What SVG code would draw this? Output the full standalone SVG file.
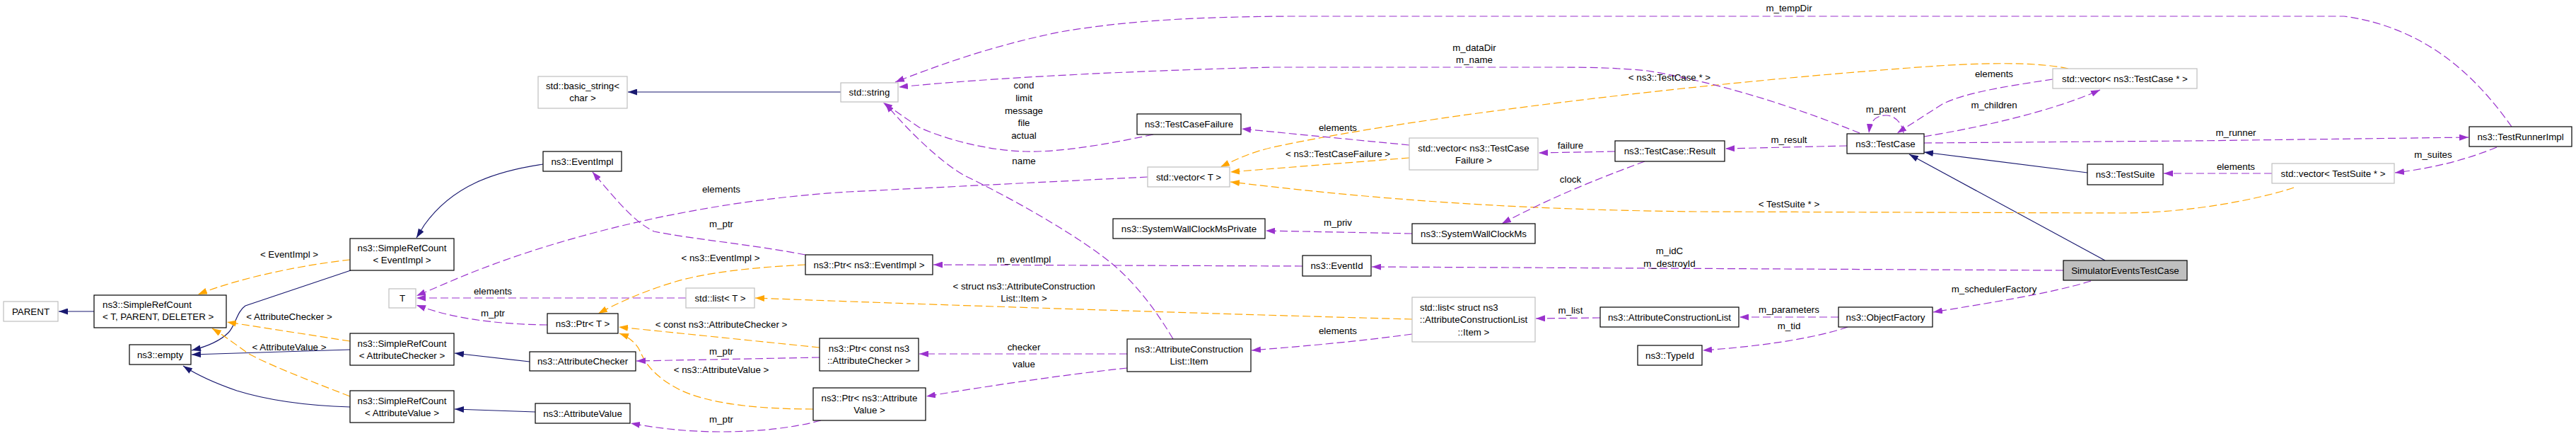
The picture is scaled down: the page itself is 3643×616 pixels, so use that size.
<svg xmlns="http://www.w3.org/2000/svg" width="3643" height="616" viewBox="0 0 3643 616">
<style>
text{font-family:"Liberation Sans",Arial,sans-serif;font-size:13.33px;fill:#000}
.c{text-anchor:middle}
.b{fill:#fff;stroke:#000;stroke-width:1.2}
.g{fill:#fff;stroke:#bfbfbf;stroke-width:1.2}
.f{fill:#bfbfbf;stroke:#000;stroke-width:1.2}
.e{fill:none;stroke-width:1.2}
.nv{stroke:#191970;marker-end:url(#an)}
.pu{stroke:#9a32cd;stroke-dasharray:11,5;marker-end:url(#ap)}
.or{stroke:#ffa500;stroke-dasharray:11,5;marker-end:url(#ao)}
</style>
<defs>
<marker id="an" viewBox="0 0 13 9" refX="13" refY="4.5" markerWidth="13" markerHeight="9" markerUnits="userSpaceOnUse" orient="auto"><path d="M0,0L13,4.5L0,9z" fill="#191970"/></marker>
<marker id="ap" viewBox="0 0 13 9" refX="13" refY="4.5" markerWidth="13" markerHeight="9" markerUnits="userSpaceOnUse" orient="auto"><path d="M0,0L13,4.5L0,9z" fill="#9a32cd"/></marker>
<marker id="ao" viewBox="0 0 13 9" refX="13" refY="4.5" markerWidth="13" markerHeight="9" markerUnits="userSpaceOnUse" orient="auto"><path d="M0,0L13,4.5L0,9z" fill="#ffa500"/></marker>
</defs>
<rect width="3643" height="616" fill="#fff"/>
<g id="connectors">
<path class="e nv" d="M133,440L83,440"/>
<path class="e nv" d="M496,382L347,432C335,440 333,460 323,470C312,481 295,489 271,495"/>
<path class="e nv" d="M495,494L271,501"/>
<path class="e nv" d="M495,575C430,573 380,566 335,552C300,540 276,528 259,517"/>
<path class="e nv" d="M768,232C700,242 640,262 600,318L589,336"/>
<path class="e nv" d="M749,511L643,499"/>
<path class="e nv" d="M757,582L643,578"/>
<path class="e nv" d="M1189,130L888,130"/>
<path class="e nv" d="M2952,244L2721,215"/>
<path class="e nv" d="M2977,368L2700,218"/>
<path class="e or" d="M495,367C430,374 340,392 280,416"/>
<path class="e or" d="M495,482L321,455"/>
<path class="e or" d="M495,560C430,535 380,515 352,500C335,488 318,475 300,464"/>
<path class="e or" d="M1139,374C1060,378 1000,385 955,398C905,413 870,430 846,443"/>
<path class="e or" d="M1159,491L875,462"/>
<path class="e or" d="M1150,578C1070,578 1000,570 960,550C925,532 912,512 906,498C902,488 892,477 876,471"/>
<path class="e or" d="M1997,451C1700,443 1300,430 1068,421"/>
<path class="e or" d="M1993,223L1740,243"/>
<path class="e or" d="M2925,97C2880,87 2800,88 2700,96C2400,118 2000,165 1800,208C1770,215 1748,225 1726,236"/>
<path class="e or" d="M3244,265C3200,280 3100,301 3000,301L2400,299C2100,296 1900,276 1740,257"/>
<path class="e pu" d="M1623,250L1200,271C1000,283 800,330 650,392L589,418"/>
<path class="e pu" d="M970,421L589,421"/>
<path class="e pu" d="M774,459C700,458 640,450 589,431"/>
<path class="e pu" d="M1139,360C1060,345 980,338 925,327C900,315 880,293 838,243"/>
<path class="e pu" d="M3552,179C3510,120 3440,40 3315,23L1820,23C1700,24 1600,28 1500,45C1400,65 1320,95 1266,116"/>
<path class="e pu" d="M2630,188C2560,160 2450,120 2330,100C2290,96 2250,95 2200,95L1800,95C1600,100 1400,110 1271,123"/>
<path class="e pu" d="M1631,190C1560,205 1500,215 1450,214C1400,213 1340,198 1300,180L1249,145"/>
<path class="e pu" d="M1659,479C1630,430 1600,395 1572,372C1530,338 1450,290 1366,249C1330,230 1280,180 1252,146"/>
<path class="e pu" d="M1993,205L1756,182"/>
<path class="e pu" d="M2284,214L2176,216"/>
<path class="e pu" d="M2326,228C2280,245 2200,275 2124,316"/>
<path class="e pu" d="M1997,330L1790,326"/>
<path class="e pu" d="M2612,206L2440,210"/>
<path class="e pu" d="M2692,188C2690,174 2680,163 2667,163C2654,163 2645,170 2643,188"/>
<path class="e pu" d="M2903,112C2850,120 2780,130 2747,147L2683,188"/>
<path class="e pu" d="M2721,193C2800,180 2900,158 2970,127"/>
<path class="e pu" d="M2721,202L3100,199L3491,194"/>
<path class="e pu" d="M3531,208C3490,225 3440,238 3387,244"/>
<path class="e pu" d="M3213,245L3060,245"/>
<path class="e pu" d="M2918,382L1940,377"/>
<path class="e pu" d="M1842,376L1320,374"/>
<path class="e pu" d="M2957,397C2900,415 2800,430 2734,441"/>
<path class="e pu" d="M2600,448L2460,448"/>
<path class="e pu" d="M2613,462C2560,480 2480,490 2408,495"/>
<path class="e pu" d="M2263,449L2172,450"/>
<path class="e pu" d="M1997,472C1900,485 1830,490 1770,495"/>
<path class="e pu" d="M1594,500L1300,500"/>
<path class="e pu" d="M1594,520C1500,530 1400,545 1310,560"/>
<path class="e pu" d="M1159,505L900,510"/>
<path class="e pu" d="M1161,594C1120,605 1070,610 1020,610C970,610 930,605 892,598"/>
<text class="c" x="409" y="364">&lt; EventImpl &gt;</text>
<text class="c" x="409" y="452">&lt; AttributeChecker &gt;</text>
<text class="c" x="409" y="495">&lt; AttributeValue &gt;</text>
<text class="c" x="1020" y="272">elements</text>
<text class="c" x="1020" y="321">m_ptr</text>
<text class="c" x="1019" y="369">&lt; ns3::EventImpl &gt;</text>
<text class="c" x="697" y="416">elements</text>
<text class="c" x="697" y="447">m_ptr</text>
<text class="c" x="1020" y="463">&lt; const ns3::AttributeChecker &gt;</text>
<text class="c" x="1020" y="501">m_ptr</text>
<text class="c" x="1020" y="527">&lt; ns3::AttributeValue &gt;</text>
<text class="c" x="1020" y="597">m_ptr</text>
<text class="c" x="1448" y="125">cond</text>
<text class="c" x="1448" y="143">limit</text>
<text class="c" x="1448" y="161">message</text>
<text class="c" x="1448" y="178">file</text>
<text class="c" x="1448" y="196">actual</text>
<text class="c" x="1448" y="232">name</text>
<text class="c" x="1448" y="371">m_eventImpl</text>
<text class="c" x="1448" y="409">&lt; struct ns3::AttributeConstruction</text>
<text class="c" x="1448" y="426">List::Item &gt;</text>
<text class="c" x="1448" y="495">checker</text>
<text class="c" x="1448" y="519">value</text>
<text class="c" x="2085" y="72">m_dataDir</text>
<text class="c" x="2085" y="89">m_name</text>
<text class="c" x="2361" y="114">&lt; ns3::TestCase * &gt;</text>
<text class="c" x="1892" y="185">elements</text>
<text class="c" x="1892" y="222">&lt; ns3::TestCaseFailure &gt;</text>
<text class="c" x="2221" y="210">failure</text>
<text class="c" x="2221" y="258">clock</text>
<text class="c" x="1892" y="319">m_priv</text>
<text class="c" x="2361" y="359">m_idC</text>
<text class="c" x="2361" y="377">m_destroyId</text>
<text class="c" x="2221" y="443">m_list</text>
<text class="c" x="1892" y="472">elements</text>
<text class="c" x="2530" y="16">m_tempDir</text>
<text class="c" x="2820" y="109">elements</text>
<text class="c" x="2820" y="153">m_children</text>
<text class="c" x="2667" y="159">m_parent</text>
<text class="c" x="2530" y="202">m_result</text>
<text class="c" x="2530" y="293">&lt; TestSuite * &gt;</text>
<text class="c" x="2820" y="413">m_schedulerFactory</text>
<text class="c" x="2530" y="442">m_parameters</text>
<text class="c" x="2530" y="465">m_tid</text>
<text class="c" x="3162" y="192">m_runner</text>
<text class="c" x="3162" y="240">elements</text>
<text class="c" x="3441" y="223">m_suites</text>
</g>
<g id="n_parent"><rect class="g" x="5" y="426" width="77" height="28"/><text class="c" x="43.5" y="444.5">PARENT</text></g>
<g id="n_src_t"><rect class="b" x="133" y="417" width="187" height="46"/><text x="145" y="435">ns3::SimpleRefCount</text><text x="145" y="452">&lt; T, PARENT, DELETER &gt;</text></g>
<g id="n_empty"><rect class="b" x="183" y="487" width="87" height="28"/><text class="c" x="226.5" y="505.5">ns3::empty</text></g>
<g id="n_src_eventimpl"><rect class="b" x="495" y="337" width="147" height="45"/><text class="c" x="568.5" y="355">ns3::SimpleRefCount</text><text class="c" x="568.5" y="372">&lt; EventImpl &gt;</text></g>
<g id="n_t"><rect class="g" x="550" y="408" width="38" height="27"/><text class="c" x="569" y="426">T</text></g>
<g id="n_src_checker"><rect class="b" x="495" y="471" width="147" height="45"/><text class="c" x="568.5" y="489.5">ns3::SimpleRefCount</text><text class="c" x="568.5" y="506.5">&lt; AttributeChecker &gt;</text></g>
<g id="n_src_value"><rect class="b" x="495" y="552" width="147" height="45"/><text class="c" x="568.5" y="570.5">ns3::SimpleRefCount</text><text class="c" x="568.5" y="587.5">&lt; AttributeValue &gt;</text></g>
<g id="n_eventimpl"><rect class="b" x="768" y="214" width="111" height="28"/><text class="c" x="823.5" y="232.5">ns3::EventImpl</text></g>
<g id="n_basic_string"><rect class="g" x="761" y="108" width="126" height="45"/><text class="c" x="824" y="126">std::basic_string&lt;</text><text class="c" x="824" y="143">char &gt;</text></g>
<g id="n_string"><rect class="g" x="1189" y="117" width="81" height="27"/><text class="c" x="1229.5" y="135">std::string</text></g>
<g id="n_ptr_t"><rect class="b" x="774" y="443" width="100" height="28"/><text class="c" x="824" y="461.5">ns3::Ptr&lt; T &gt;</text></g>
<g id="n_list_t"><rect class="g" x="970" y="407" width="97" height="28"/><text class="c" x="1018.5" y="425.5">std::list&lt; T &gt;</text></g>
<g id="n_checker"><rect class="b" x="749" y="497" width="150" height="27"/><text class="c" x="824" y="515">ns3::AttributeChecker</text></g>
<g id="n_value"><rect class="b" x="757" y="570" width="134" height="28"/><text class="c" x="824" y="588.5">ns3::AttributeValue</text></g>
<g id="n_ptr_eventimpl"><rect class="b" x="1139" y="360" width="180" height="28"/><text class="c" x="1229" y="378.5">ns3::Ptr&lt; ns3::EventImpl &gt;</text></g>
<g id="n_ptr_checker"><rect class="b" x="1159" y="478" width="140" height="46"/><text class="c" x="1229" y="497">ns3::Ptr&lt; const ns3</text><text class="c" x="1229" y="514">::AttributeChecker &gt;</text></g>
<g id="n_ptr_value"><rect class="b" x="1150" y="548" width="159" height="46"/><text class="c" x="1229.5" y="567">ns3::Ptr&lt; ns3::Attribute</text><text class="c" x="1229.5" y="584">Value &gt;</text></g>
<g id="n_testcasefailure"><rect class="b" x="1608" y="161" width="147" height="29"/><text class="c" x="1681.5" y="180">ns3::TestCaseFailure</text></g>
<g id="n_vector_t"><rect class="g" x="1623" y="236" width="116" height="28"/><text class="c" x="1681" y="254.5">std::vector&lt; T &gt;</text></g>
<g id="n_swcmprivate"><rect class="b" x="1574" y="309" width="215" height="28"/><text class="c" x="1681.5" y="327.5">ns3::SystemWallClockMsPrivate</text></g>
<g id="n_acl_item"><rect class="b" x="1594" y="479" width="175" height="46"/><text class="c" x="1681.5" y="498">ns3::AttributeConstruction</text><text class="c" x="1681.5" y="515">List::Item</text></g>
<g id="n_vector_tcf"><rect class="g" x="1993" y="195" width="182" height="45"/><text class="c" x="2084" y="213.5">std::vector&lt; ns3::TestCase</text><text class="c" x="2084" y="230.5">Failure &gt;</text></g>
<g id="n_result"><rect class="b" x="2284" y="199" width="155" height="29"/><text class="c" x="2361.5" y="218">ns3::TestCase::Result</text></g>
<g id="n_swcm"><rect class="b" x="1997" y="316" width="174" height="28"/><text class="c" x="2084" y="334.5">ns3::SystemWallClockMs</text></g>
<g id="n_eventid"><rect class="b" x="1842" y="361" width="97" height="29"/><text class="c" x="1890.5" y="380">ns3::EventId</text></g>
<g id="n_list_item"><rect class="g" x="1997" y="420" width="174" height="63"/><text x="2008" y="438.5">std::list&lt; struct ns3</text><text class="c" x="2084" y="456">::AttributeConstructionList</text><text class="c" x="2084" y="473.5">::Item &gt;</text></g>
<g id="n_acl"><rect class="b" x="2263" y="434" width="196" height="28"/><text class="c" x="2361" y="452.5">ns3::AttributeConstructionList</text></g>
<g id="n_typeid"><rect class="b" x="2316" y="488" width="91" height="28"/><text class="c" x="2361.5" y="506.5">ns3::TypeId</text></g>
<g id="n_testcase"><rect class="b" x="2612" y="189" width="109" height="28"/><text class="c" x="2666.5" y="207.5">ns3::TestCase</text></g>
<g id="n_vector_testcase"><rect class="g" x="2903" y="97" width="204" height="28"/><text class="c" x="3005" y="115.5">std::vector&lt; ns3::TestCase * &gt;</text></g>
<g id="n_testsuite"><rect class="b" x="2952" y="232" width="107" height="29"/><text class="c" x="3005.5" y="251">ns3::TestSuite</text></g>
<g id="n_simulatoreventstestcase"><rect class="f" x="2918" y="368" width="175" height="28"/><text class="c" x="3005.5" y="386.5">SimulatorEventsTestCase</text></g>
<g id="n_objectfactory"><rect class="b" x="2600" y="434" width="133" height="28"/><text class="c" x="2666.5" y="452.5">ns3::ObjectFactory</text></g>
<g id="n_testrunnerimpl"><rect class="b" x="3492" y="179" width="145" height="28"/><text class="c" x="3564.5" y="197.5">ns3::TestRunnerImpl</text></g>
<g id="n_vector_testsuite"><rect class="g" x="3213" y="231" width="173" height="28"/><text class="c" x="3299.5" y="249.5">std::vector&lt; TestSuite * &gt;</text></g>
</svg>
